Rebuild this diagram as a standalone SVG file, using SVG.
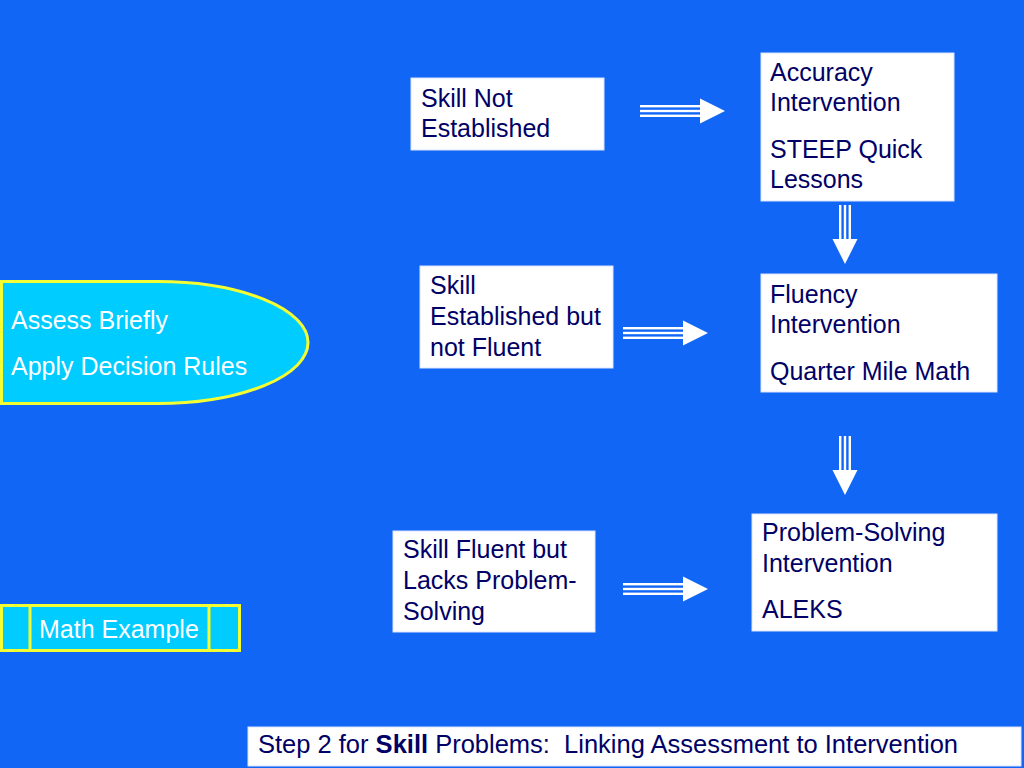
<svg xmlns="http://www.w3.org/2000/svg" xmlns:xlink="http://www.w3.org/1999/xlink" width="1024" height="768" viewBox="0 0 1024 768">
<style>
.box{fill:#ffffff;stroke:#d8e4ff;stroke-width:1}
.t{font-family:"Liberation Sans",Arial,sans-serif;font-size:25px;fill:#000066}
.w{font-family:"Liberation Sans",Arial,sans-serif;font-size:25px;fill:#ffffff}
.cy{fill:#00ccff;stroke:#f4ff33;stroke-width:3}
.ar{fill:#ffffff}
</style>
<defs>
<g id="harrow">
<rect class="ar" x="0" y="-6" width="60" height="2.4"/>
<rect class="ar" x="0" y="-1.2" width="60" height="2.4"/>
<rect class="ar" x="0" y="3.6" width="60" height="2.4"/>
<polygon class="ar" points="60,-12.5 85,0 60,12.5"/>
</g>
<g id="varrow">
<rect class="ar" x="-6" y="0" width="2.4" height="35"/>
<rect class="ar" x="-1.2" y="0" width="2.4" height="35"/>
<rect class="ar" x="3.6" y="0" width="2.4" height="35"/>
<polygon class="ar" points="-12.5,34 12.5,34 0,59"/>
</g>
</defs>
<rect x="0" y="0" width="1024" height="768" fill="#1166f5"/>

<g id="connectors">
<use xlink:href="#harrow" transform="translate(640,111)"/>
<use xlink:href="#harrow" transform="translate(623,333)"/>
<use xlink:href="#harrow" transform="translate(623,589)"/>
<use xlink:href="#varrow" transform="translate(845,205)"/>
<use xlink:href="#varrow" transform="translate(845,436)"/>
</g>

<g id="assess">
<path class="cy" d="M1.5,281.5 H158 A150,61 0 0 1 158,403.5 H1.5 Z"/>
<text class="w" x="11" y="329">Assess Briefly</text>
<text class="w" x="11" y="375">Apply Decision Rules</text>
</g>

<g id="math-example">
<rect class="cy" x="1.5" y="605.5" width="238" height="45"/>
<line x1="30" y1="605.5" x2="30" y2="650.5" stroke="#f4ff33" stroke-width="3"/>
<line x1="209" y1="605.5" x2="209" y2="650.5" stroke="#f4ff33" stroke-width="3"/>
<text class="w" x="39" y="638">Math Example</text>
</g>

<g id="skill-not-established">
<rect class="box" x="411" y="78" width="193" height="72"/>
<text class="t" x="421" y="107">Skill Not</text>
<text class="t" x="421" y="137">Established</text>
</g>

<g id="accuracy">
<rect class="box" x="761" y="53" width="193" height="148"/>
<text class="t" x="770" y="81">Accuracy</text>
<text class="t" x="770" y="111">Intervention</text>
<text class="t" x="770" y="158">STEEP Quick</text>
<text class="t" x="770" y="188">Lessons</text>
</g>

<g id="skill-not-fluent">
<rect class="box" x="420" y="266" width="193" height="102"/>
<text class="t" x="430" y="294">Skill</text>
<text class="t" x="430" y="325">Established but</text>
<text class="t" x="430" y="356">not Fluent</text>
</g>

<g id="fluency">
<rect class="box" x="761" y="274" width="236" height="118"/>
<text class="t" x="770" y="303">Fluency</text>
<text class="t" x="770" y="333">Intervention</text>
<text class="t" x="770" y="380">Quarter Mile Math</text>
</g>

<g id="skill-fluent">
<rect class="box" x="393" y="531" width="202" height="101"/>
<text class="t" x="403" y="558">Skill Fluent but</text>
<text class="t" x="403" y="589">Lacks Problem-</text>
<text class="t" x="403" y="620">Solving</text>
</g>

<g id="problem-solving">
<rect class="box" x="752" y="514" width="245" height="117"/>
<text class="t" x="762" y="541">Problem-Solving</text>
<text class="t" x="762" y="572">Intervention</text>
<text class="t" x="762" y="618">ALEKS</text>
</g>

<g id="title">
<rect class="box" x="248" y="727" width="773" height="39"/>
<text class="t" x="258" y="753" xml:space="preserve" textLength="700" lengthAdjust="spacingAndGlyphs">Step 2 for <tspan font-weight="bold">Skill</tspan> Problems:  Linking Assessment to Intervention</text>
</g>
</svg>
